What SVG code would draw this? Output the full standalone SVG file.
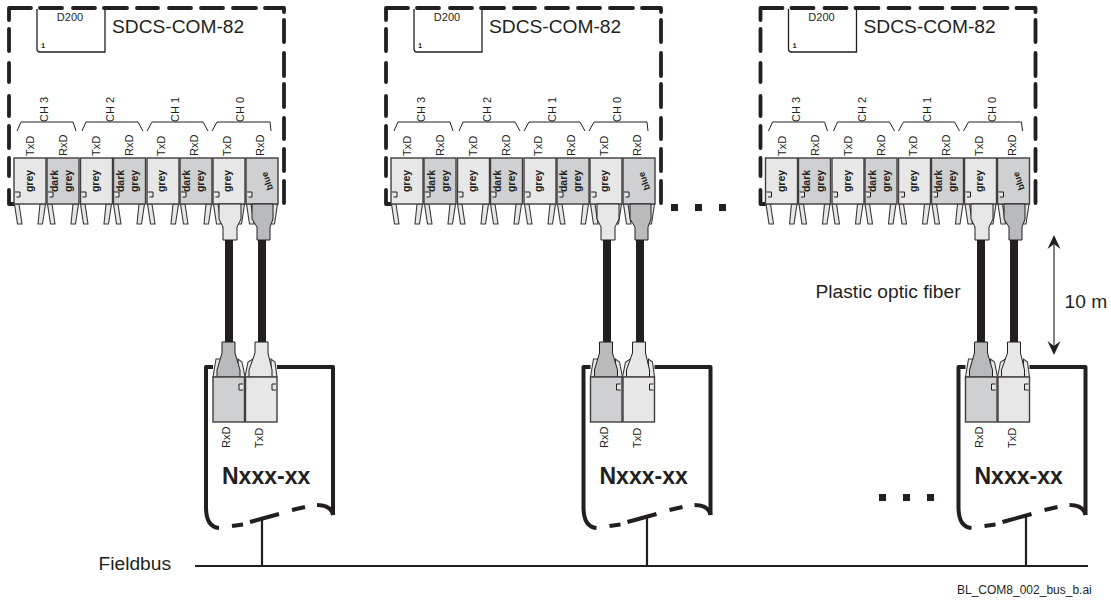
<svg xmlns="http://www.w3.org/2000/svg" width="1111" height="601" viewBox="0 0 1111 601">
<style>
text{font-family:"Liberation Sans",Arial,sans-serif;fill:#231f20}
.dash{fill:none;stroke:#231f20;stroke-width:3.8;stroke-linecap:round;stroke-linejoin:round}
.thin{fill:none;stroke:#231f20;stroke-width:1}
.mark{fill:#e6e7e6;stroke:#231f20;stroke-width:1}
.box{stroke:#403e3f;stroke-width:1.4}
.l{fill:#e6e7e6}.d{fill:#cfd0d1}.foot{fill:#e6e7e6;stroke:#3a3839;stroke-width:1.1}
.s{font-size:11px}.b{font-size:10.500px;font-weight:bold}
.title{font-size:19.200px}.dev{font-size:23px;font-weight:bold}.lab{font-size:19.200px}
.cable{fill:none;stroke:#231f20;stroke-width:8}
.wire{fill:none;stroke:#231f20;stroke-width:4;stroke-linejoin:round}
.line{fill:none;stroke:#231f20;stroke-width:2.2}
.pl{fill:#e6e7e6;stroke:#231f20;stroke-width:1}.pd{fill:#b9babb;stroke:#231f20;stroke-width:1}
</style>
<defs>
<g id="ft">
<path class="foot" d="M0.500 204L5 204L8 224L3.500 224Z"/>
<path class="foot" d="M26 204L31.500 204L28.500 224L24 224Z"/>
</g>
<path id="mk" class="mark" d="M1 192H6V197H2.500"/>
<g id="board">
<path class="dash" d="M9 20V8H31M40 8H62M73 8H95M104 8H127M137 8H158M169 8H191M201 8H223M233 8H256M265 8H284V12M284 20V42M284 53V76M284 84V107M284 118V139M284 149V171M284 181V203M9 29V51M9 63V82M9 96V116M9 126V148M9 158V176M9 190V204H14"/>
<path class="thin" style="stroke-width:1.300" d="M37 9V49Q37 52 40 52H105V9"/>
<text class="s" x="70" y="21" text-anchor="middle">D200</text>
<text x="41" y="48" style="font-size:7px;font-weight:bold;font-family:'Liberation Mono',monospace">1</text>
<text class="title" x="112" y="33">SDCS-COM-82</text>
<g class="thin">
<path d="M17 131L21 122H73L76 131"/><path d="M82 131L86 122H138L143 131"/><path d="M147 131L152 122H203L208 131"/><path d="M212 131L217 122H270L271 131"/>
</g>
<g class="s">
<text transform="translate(48 122) rotate(-90)">CH 3</text>
<text transform="translate(114 122) rotate(-90)">CH 2</text>
<text transform="translate(179 122) rotate(-90)">CH 1</text>
<text transform="translate(244 122) rotate(-90)">CH 0</text>
<text transform="translate(34 156) rotate(-90)">TxD</text>
<text transform="translate(67 156) rotate(-90)">RxD</text>
<text transform="translate(100 156) rotate(-90)">TxD</text>
<text transform="translate(133 156) rotate(-90)">RxD</text>
<text transform="translate(165 156) rotate(-90)">TxD</text>
<text transform="translate(198 156) rotate(-90)">RxD</text>
<text transform="translate(231 156) rotate(-90)">TxD</text>
<text transform="translate(264 156) rotate(-90)">RxD</text>
</g>
<use href="#ft" x="14"/><use href="#ft" x="47"/><use href="#ft" x="80"/><use href="#ft" x="113"/><use href="#ft" x="147"/><use href="#ft" x="180"/><use href="#ft" x="213"/><use href="#ft" x="246"/>
<rect class="box l" x="14" y="158" width="32" height="46"/><rect class="box d" x="47" y="158" width="32" height="46"/><rect class="box l" x="80.500" y="158" width="32" height="46"/><rect class="box d" x="113.500" y="158" width="32" height="46"/><rect class="box l" x="147" y="158" width="32" height="46"/><rect class="box d" x="180" y="158" width="32" height="46"/><rect class="box l" x="213" y="158" width="32" height="46"/><rect class="box d" x="246" y="158" width="32" height="46"/>
<use href="#mk" x="14"/><use href="#mk" x="47"/><use href="#mk" x="80"/><use href="#mk" x="113"/><use href="#mk" x="147"/><use href="#mk" x="180"/><use href="#mk" x="213"/><use href="#mk" x="246"/>
<g class="b">
<text transform="translate(33 181) rotate(-90)" text-anchor="middle">grey</text>
<text transform="translate(58 181) rotate(-90)" text-anchor="middle">dark</text>
<text transform="translate(72 181) rotate(-90)" text-anchor="middle">grey</text>
<text transform="translate(99 181) rotate(-90)" text-anchor="middle">grey</text>
<text transform="translate(124 181) rotate(-90)" text-anchor="middle">dark</text>
<text transform="translate(138 181) rotate(-90)" text-anchor="middle">grey</text>
<text transform="translate(165 181) rotate(-90)" text-anchor="middle">grey</text>
<text transform="translate(190 181) rotate(-90)" text-anchor="middle">dark</text>
<text transform="translate(204 181) rotate(-90)" text-anchor="middle">grey</text>
<text transform="translate(231 181) rotate(-90)" text-anchor="middle">grey</text>
<text transform="translate(270 180) rotate(-110)" text-anchor="middle" style="font-size:9px">blue</text>
</g>
</g>
<g id="plugs">
<path class="pl" d="M219 204H241V219L237 227V240H223V227L219 219Z"/>
<path class="pd" d="M252 204H273V219L270 227V240H257V227L252 219Z"/>
</g>
<g id="device">
<path class="wire" d="M213 367H206V507Q206 527 219 528"/>
<path class="wire" d="M277 367H333V515"/>
<path class="wire" d="M232 526L243 524.500M250 522L279 514M292 510L305 507M317 505Q331 505 333 515"/>
<path class="foot" d="M213 377L216 359L222 359L220 377Z"/><path class="foot" d="M238 377L238 359L242 362L245 377Z"/>
<path class="foot" d="M245 377L248 362L253 359L253 377Z"/><path class="foot" d="M271 377L271 359L275 362L277 377Z"/>
<path class="pd" d="M222 342H235V353L240 370V377H217V370L222 353Z"/>
<path class="pl" d="M255 342H268V353L272 370V377H249V370L255 353Z"/>
<rect class="box d" x="213" y="377" width="31.500" height="45"/><rect class="box l" x="245.500" y="377" width="31.500" height="45"/>
<path class="mark" d="M243 384H239V390H243"/><path class="mark" d="M276 384H272V390H276"/>
<text class="s" transform="translate(230 448) rotate(-90)">RxD</text>
<text class="s" transform="translate(263 448) rotate(-90)">TxD</text>
<text class="dev" x="222" y="484">Nxxx-xx</text>
</g>
</defs>
<g id="board1"><use href="#board"/></g>
<g id="board2"><use href="#board" x="377"/></g>
<g id="board3"><use href="#board" x="751.500"/></g>
<g id="connectors">
<path class="cable" d="M229 240V344M262 240V344M607 240V344M640 240V344M981 240V344M1014 240V344"/>
<use href="#plugs"/><use href="#plugs" x="378"/><use href="#plugs" x="752"/>
<path class="line" d="M195 566H1088"/>
<path class="line" d="M262 520V566M647 518V566M1026 516V566"/>
<path fill="#231f20" d="M671 204h7v7h-7zM695 204h7v7h-7zM719 204h7v7h-7zM879 494h7v7h-7zM903 494h7v7h-7zM927 494h7v7h-7z"/>
<path d="M1054 240V350" fill="none" stroke="#55575a" stroke-width="1.500"/>
<path d="M1054 235L1047.500 249L1054 244L1060.500 249ZM1054 355L1047.500 341L1054 346L1060.500 341Z" fill="#231f20"/>
</g>
<g id="device1"><use href="#device"/></g>
<g id="device2"><use href="#device" x="377.500"/></g>
<g id="device3"><use href="#device" x="752.500"/></g>
<text class="lab" x="815.500" y="298">Plastic optic fiber</text>
<text class="lab" x="1064.500" y="308">10 m</text>
<text class="lab" x="98.500" y="570">Fieldbus</text>
<text x="957" y="594" style="font-size:12px">BL_COM8_002_bus_b.ai</text>
</svg>
